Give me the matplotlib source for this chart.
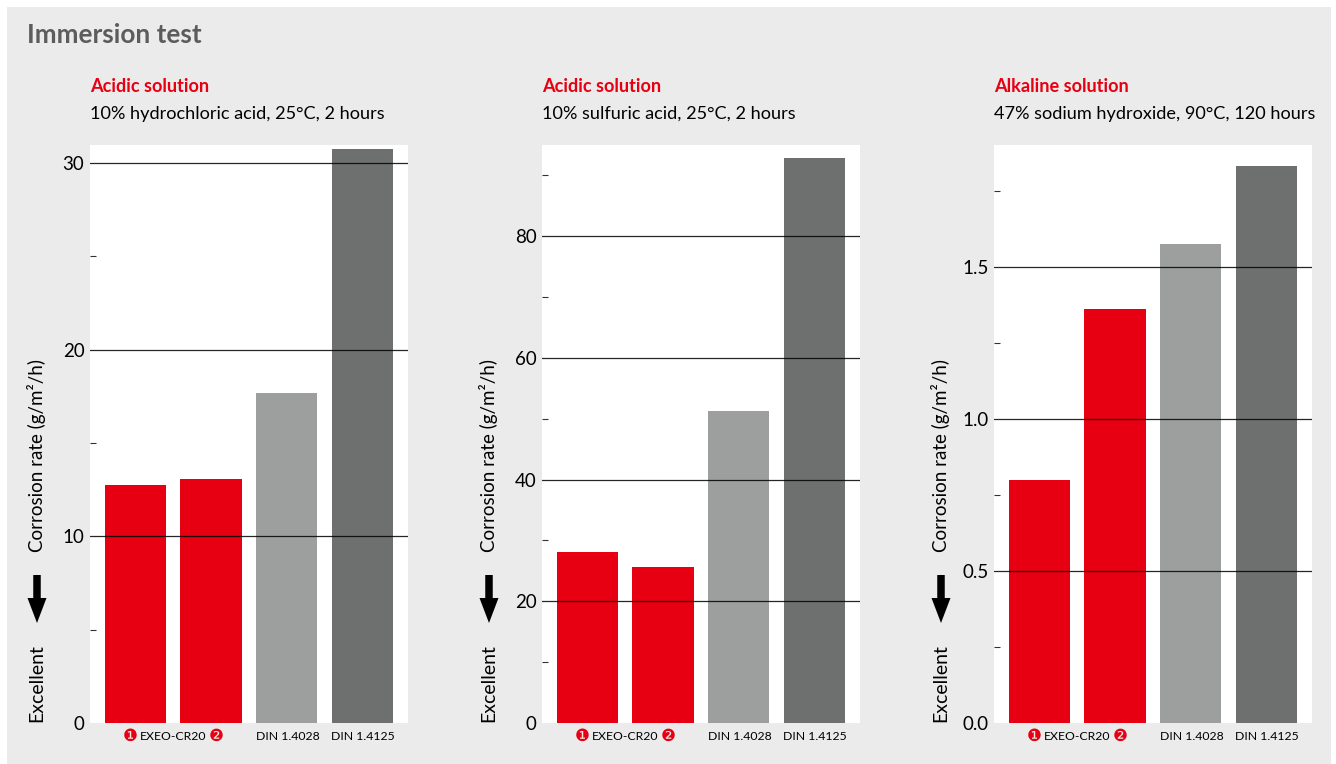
import matplotlib
matplotlib.use("Agg")
import matplotlib.pyplot as plt
from matplotlib.patches import Rectangle, FancyArrow

W, H = 1336, 764
BODY_SIZE = 13.1
SMALL_SIZE = 8.8
plt.rcParams["font.family"] = ["Lato", "DejaVu Sans"]

RED = "#e60012"
LIGHT = "#9d9f9e"
DARK = "#6e706f"
PANEL_BG = "#ebebeb"

title = "Immersion test"
headings = ["Acidic solution", "Acidic solution", "Alkaline solution"]
conditions = [
    "10% hydrochloric acid, 25°C, 2 hours",
    "10% sulfuric acid, 25°C, 2 hours",
    "47% sodium hydroxide, 90°C, 120 hours",
]
materials = ["EXEO-CR20", "DIN 1.4028", "DIN 1.4125"]
hcl_rates = [12.75, 13.07, 17.67, 30.74]
h2so4_rates = [28.1, 25.7, 51.3, 92.9]
naoh_rates = [0.80, 1.36, 1.575, 1.83]
rates = [hcl_rates, h2so4_rates, naoh_rates]
y_limits = [30.96, 95.0, 1.90]
major_ticks = [[0, 10, 20, 30], [0, 20, 40, 60, 80], [0.0, 0.5, 1.0, 1.5]]
major_labels = [["0", "10", "20", "30"], ["0", "20", "40", "60", "80"], ["0.0", "0.5", "1.0", "1.5"]]
minor_ticks = [[5, 15, 25], [10, 30, 50, 70, 90], [0.25, 0.75, 1.25, 1.75]]
bar_colors = [RED, RED, LIGHT, DARK]
panel_left = [90, 542, 994]
AX_W, AX_TOP, AX_BOTTOM = 318, 145, 723


def fx(px):
    return px / W


def fy(py):
    return 1 - py / H


fig = plt.figure(figsize=(W / 100, H / 100), dpi=100, facecolor="white")
fig.add_artist(Rectangle((fx(7), fy(764)), fx(1324), fy(7) - fy(764), transform=fig.transFigure,
                         facecolor=PANEL_BG, edgecolor="none", zorder=-1))
fig.text(fx(27), fy(35), title, fontsize=18.8, fontweight="bold", color="#5c5c5c", va="center")

overlay = fig.add_axes([0, 0, 1, 1], facecolor="none", zorder=5)
overlay.set_xlim(0, W)
overlay.set_ylim(H, 0)
overlay.axis("off")

for i, left in enumerate(panel_left):
    ax = fig.add_axes([fx(left), fy(AX_BOTTOM), fx(AX_W), (AX_BOTTOM - AX_TOP) / H], facecolor="white")
    ax.set_xlim(-0.598, 3.602)
    ax.set_ylim(0, y_limits[i])
    ax.bar(range(4), rates[i], width=0.806, color=bar_colors, zorder=2)
    ax.set_yticks(major_ticks[i], major_labels[i])
    ax.set_yticks(minor_ticks[i], minor=True)
    ax.tick_params(axis="y", which="major", length=0, pad=4, labelsize=13.5, labelcolor="black")
    ax.tick_params(axis="y", which="minor", length=4, width=0.8, direction="in", color="#333333")
    ax.set_xticks([])
    for spine in ax.spines.values():
        spine.set_visible(False)
    for tick in major_ticks[i][1:]:
        ax.axhline(tick, color="black", lw=0.9, alpha=0.85, zorder=3)

    fig.text(fx(left), fy(86), headings[i], fontsize=BODY_SIZE, fontweight="bold", color=RED, va="center")
    fig.text(fx(left), fy(114), conditions[i], fontsize=BODY_SIZE, color="black", va="center")

    # Category labels: the two EXEO bars share one label flanked by numbered discs
    label_y = fy(736)
    fig.text(fx(left + 40), label_y, "\u2776", fontsize=12, color=RED, ha="center", va="center",
             family="DejaVu Sans")
    fig.text(fx(left + 50), label_y, materials[0], fontsize=SMALL_SIZE, color="black", ha="left", va="center")
    fig.text(fx(left + 126), label_y, "\u2777", fontsize=12, color=RED, ha="center", va="center",
             family="DejaVu Sans")
    fig.text(fx(left + 197.5), label_y, materials[1], fontsize=SMALL_SIZE, color="black", ha="center", va="center")
    fig.text(fx(left + 273), label_y, materials[2], fontsize=SMALL_SIZE, color="black", ha="center", va="center")

    # Rotated axis caption with the arrow pointing towards better performance
    cap_x = left - 53
    fig.text(fx(cap_x), fy(552), "Corrosion rate (g/m²/h)", rotation=90, fontsize=13.5, color="black",
             ha="center", va="bottom")
    fig.text(fx(cap_x), fy(722), "Excellent", rotation=90, fontsize=14, color="black",
             ha="center", va="bottom")
    overlay.add_patch(FancyArrow(left - 53, 575, 0, 48, width=7.5, head_width=19, head_length=25,
                                 length_includes_head=True, color="black", lw=0))

fig.savefig("out.png", dpi=100)
